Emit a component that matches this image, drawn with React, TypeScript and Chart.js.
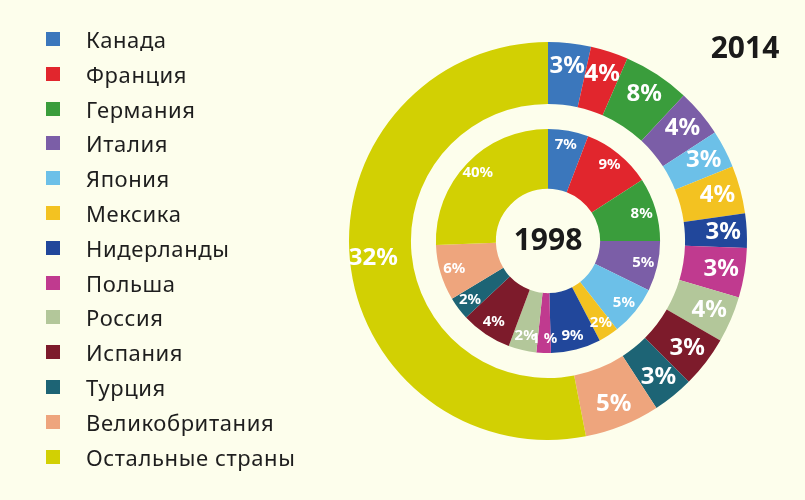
import React, { useEffect, useRef } from "react";
import { Chart, registerables } from "chart.js";

Chart.register(...registerables);

const countries = [
  "Канада",
  "Франция",
  "Германия",
  "Италия",
  "Япония",
  "Мексика",
  "Нидерланды",
  "Польша",
  "Россия",
  "Испания",
  "Турция",
  "Великобритания",
  "Остальные страны",
];

const colors = [
  "#3B77BC",
  "#E1262D",
  "#3A9D3C",
  "#7B5EA7",
  "#6CC0E8",
  "#F3C221",
  "#21479B",
  "#C03A8F",
  "#B3C79A",
  "#7D1B2B",
  "#1D6475",
  "#EEA57D",
  "#D2D003",
];

// 2014 (outer ring): slice sizes (degrees of arc) and printed labels
const values2014 = [12.5, 11, 19.5, 14, 11, 14, 10, 14.5, 13.5, 15, 12, 22, 191];
const labels2014 = ["3%", "4%", "8%", "4%", "3%", "4%", "3%", "3%", "4%", "3%", "3%", "5%", "32%"];

// 1998 (inner ring)
const values1998 = [21, 36, 33, 26, 26, 10.5, 26, 7.5, 14.5, 26.5, 12, 29, 92];
const labels1998 = ["7%", "9%", "8%", "5%", "5%", "2%", "9%", "1 %", "2%", "4%", "2%", "6%", "40%"];

const innerTitle = "1998";
const outerTitle = "2014";

const BG = "#FDFEEC";
const FONT = "'Noto Sans', 'Open Sans', sans-serif";

const labelPlugin = {
  id: "ringLabels",
  afterDatasetsDraw(chart: any) {
    const ctx = chart.ctx;
    const conf = [
      { ds: 0, labels: labels2014, frac: 0.62, size: 24 },
      { ds: 2, labels: labels1998, frac: 0.76, size: 15 },
    ];
    ctx.save();
    ctx.textAlign = "center";
    ctx.textBaseline = "middle";
    ctx.fillStyle = "#FFFFFF";
    for (const c of conf) {
      const meta = chart.getDatasetMeta(c.ds);
      ctx.font = `bold ${c.size}px ${FONT}`;
      meta.data.forEach((arc: any, i: number) => {
        const p = arc.getProps(["x", "y", "startAngle", "endAngle", "innerRadius", "outerRadius"], true);
        const mid = (p.startAngle + p.endAngle) / 2;
        const r = p.innerRadius + (p.outerRadius - p.innerRadius) * c.frac;
        ctx.fillText(c.labels[i], p.x + Math.cos(mid) * r, p.y + Math.sin(mid) * r);
      });
    }
    const m0 = chart.getDatasetMeta(2).data[0];
    ctx.fillStyle = "#1A1A1A";
    ctx.font = `bold 30px ${FONT}`;
    ctx.fillText(innerTitle, m0.x, m0.y);
    ctx.fillText(outerTitle, 745, 49);
    ctx.restore();
  },
};

export default function App() {
  const ref = useRef<HTMLCanvasElement | null>(null);

  useEffect(() => {
    document.body.style.margin = "0";
    const canvas = ref.current;
    if (!canvas) return;
    const chart = new Chart(canvas, {
      type: "doughnut",
      data: {
        labels: countries,
        datasets: [
          { data: values2014, backgroundColor: colors, borderWidth: 0, weight: 62 },
          { data: [1], backgroundColor: ["rgba(0,0,0,0)"], borderWidth: 0, weight: 25 },
          { data: values1998, backgroundColor: colors, borderWidth: 0, weight: 60 },
        ],
      },
      options: {
        responsive: false,
        animation: false,
        cutout: "26.2%",
        layout: { padding: { left: 349, right: 58, top: 42, bottom: 60 } },
        plugins: {
          legend: { display: false },
          tooltip: { enabled: false },
        },
      },
      plugins: [labelPlugin],
    } as any);
    return () => chart.destroy();
  }, []);

  return (
    <div
      style={{
        position: "absolute",
        left: 0,
        top: 0,
        width: 805,
        height: 500,
        background: BG,
        overflow: "hidden",
      }}
    >
      <canvas ref={ref} width={805} height={500} style={{ position: "absolute", left: 0, top: 0 }} />
      {countries.map((name, i) => (
        <div
          key={name}
          style={{
            position: "absolute",
            left: 46,
            top: 24 + i * 34.8,
            height: 30,
            display: "flex",
            alignItems: "center",
            fontFamily: FONT,
            fontSize: 22,
            color: "#1E1E1E",
            letterSpacing: 0.6,
            whiteSpace: "nowrap",
          }}
        >
          <span style={{ display: "inline-block", width: 14, height: 14, background: colors[i], marginRight: 26 }} />
          {name}
        </div>
      ))}
    </div>
  );
}
